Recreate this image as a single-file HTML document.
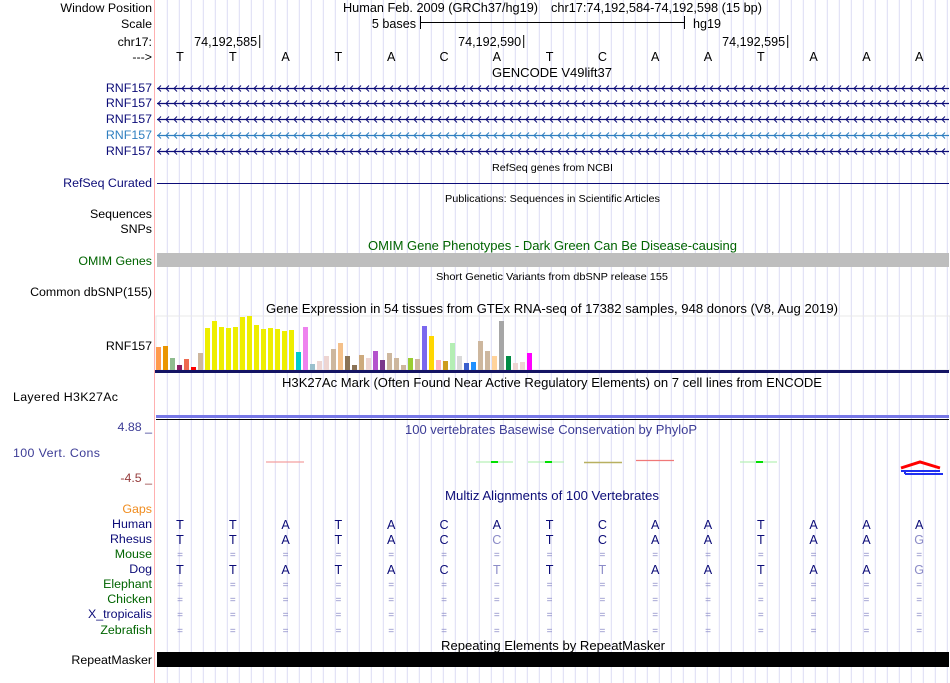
<!DOCTYPE html>
<html><head><meta charset="utf-8">
<style>
html,body{margin:0;padding:0;background:#fff;}
svg{display:block;font-family:"Liberation Sans",sans-serif;}
</style></head>
<body>
<svg id="s" width="950" height="683" viewBox="0 0 950 683" xmlns="http://www.w3.org/2000/svg">
<g id="grid"></g>
<line x1="154.5" y1="0" x2="154.5" y2="683" stroke="#ffb0b0" stroke-width="1"/>
<g id="labels" font-size="12.4" text-anchor="end">
<text x="152" y="12">Window Position</text>
<text x="152" y="28">Scale</text>
<text x="152" y="46">chr17:</text>
<text x="152" y="61">---&gt;</text>
<text x="152" y="92" fill="#0c0c78">RNF157</text>
<text x="152" y="107" fill="#0c0c78">RNF157</text>
<text x="152" y="123" fill="#0c0c78">RNF157</text>
<text x="152" y="139" fill="#2f7fc0">RNF157</text>
<text x="152" y="155" fill="#0c0c78">RNF157</text>
<text x="152" y="187" fill="#0c0c78">RefSeq Curated</text>
<text x="152" y="218">Sequences</text>
<text x="152" y="233">SNPs</text>
<text x="152" y="265" fill="#006400">OMIM Genes</text>
<text x="152" y="296">Common dbSNP(155)</text>
<text x="152" y="350">RNF157</text>
<text x="13" y="401" text-anchor="start" textLength="105">Layered H3K27Ac</text>
<text x="152" y="431" fill="#3c3c96">4.88 _</text>
<text x="13" y="457" text-anchor="start" textLength="87" fill="#3c3c96">100 Vert. Cons</text>
<text x="152" y="482" fill="#963c3c">-4.5 _</text>
<text x="152" y="513" fill="#f08c1e">Gaps</text>
<text x="152" y="528" fill="#0c0c78">Human</text>
<text x="152" y="543" fill="#0c0c78">Rhesus</text>
<text x="152" y="558" fill="#006400">Mouse</text>
<text x="152" y="573" fill="#0c0c78">Dog</text>
<text x="152" y="588" fill="#006400">Elephant</text>
<text x="152" y="603" fill="#006400">Chicken</text>
<text x="152" y="618" fill="#0c0c78">X_tropicalis</text>
<text x="152" y="634" fill="#006400">Zebrafish</text>
<text x="152" y="664">RepeatMasker</text>
</g>
<g font-size="13">
<text x="343" y="12" textLength="195" lengthAdjust="spacingAndGlyphs">Human Feb. 2009 (GRCh37/hg19)</text>
<text x="551" y="12" textLength="211" lengthAdjust="spacingAndGlyphs">chr17:74,192,584-74,192,598 (15 bp)</text>
<text x="492" y="77" textLength="120" lengthAdjust="spacingAndGlyphs">GENCODE V49lift37</text>
<text x="492" y="171" font-size="10.5" textLength="121" lengthAdjust="spacingAndGlyphs">RefSeq genes from NCBI</text>
<text x="445" y="202" font-size="10.5" textLength="215" lengthAdjust="spacingAndGlyphs">Publications: Sequences in Scientific Articles</text>
<text x="368" y="250" fill="#006400" textLength="369" lengthAdjust="spacingAndGlyphs">OMIM Gene Phenotypes - Dark Green Can Be Disease-causing</text>
<text x="436" y="280" font-size="10.5" textLength="232" lengthAdjust="spacingAndGlyphs">Short Genetic Variants from dbSNP release 155</text>
<text x="266" y="313" textLength="572" lengthAdjust="spacingAndGlyphs">Gene Expression in 54 tissues from GTEx RNA-seq of 17382 samples, 948 donors (V8, Aug 2019)</text>
<text x="282" y="387" textLength="540" lengthAdjust="spacingAndGlyphs">H3K27Ac Mark (Often Found Near Active Regulatory Elements) on 7 cell lines from ENCODE</text>
<text x="405" y="434" fill="#3c3c96" textLength="292" lengthAdjust="spacingAndGlyphs">100 vertebrates Basewise Conservation by PhyloP</text>
<text x="445" y="500" fill="#0c0c78" textLength="214" lengthAdjust="spacingAndGlyphs">Multiz Alignments of 100 Vertebrates</text>
<text x="441" y="650" textLength="224" lengthAdjust="spacingAndGlyphs">Repeating Elements by RepeatMasker</text>
</g>
<g font-size="12.6">
<text x="416" y="28" text-anchor="end">5 bases</text>
<line x1="420.5" y1="16" x2="420.5" y2="29" stroke="#000"/>
<line x1="420" y1="22.5" x2="684" y2="22.5" stroke="#000"/>
<line x1="684.5" y1="16" x2="684.5" y2="29" stroke="#000"/>
<text x="693" y="28">hg19</text>
</g>
<g id="pos" font-size="12.6" text-anchor="end"></g>
<g id="bases" font-size="12.6" text-anchor="middle"></g>
<g id="genes"></g>
<line x1="157" y1="183.5" x2="949" y2="183.5" stroke="#0c0c78"/>
<rect x="157" y="253" width="792" height="14" fill="#bebebe"/>
<rect x="156" y="316" width="794" height="54" fill="none" stroke="#e8e8e8"/>
<g id="gtex"></g>
<rect x="155" y="370" width="794" height="3" fill="#141464"/>
<rect x="156" y="415" width="793" height="3" fill="#7878e6"/>
<line x1="156" y1="419.5" x2="949" y2="419.5" stroke="#000"/>
<g id="cons">
<line x1="266" y1="462" x2="304" y2="462" stroke="#f4a0a0" stroke-width="1.2"/>
<line x1="476" y1="462" x2="513" y2="462" stroke="#b8f0b8" stroke-width="1.2"/>
<rect x="491" y="461" width="7" height="2" fill="#00e000"/>
<line x1="528" y1="462" x2="564" y2="462" stroke="#b8f0b8" stroke-width="1.2"/>
<rect x="545" y="461" width="7" height="2" fill="#00e000"/>
<line x1="584" y1="462.5" x2="622" y2="462.5" stroke="#b8b060" stroke-width="1.5"/>
<line x1="636" y1="460.5" x2="674" y2="460.5" stroke="#f07878" stroke-width="1.2"/>
<line x1="740" y1="462" x2="777" y2="462" stroke="#b8f0b8" stroke-width="1.2"/>
<rect x="756" y="461" width="7" height="2" fill="#00e000"/>
<path d="M901 468 L920 462 L940 468" fill="none" stroke="#f00" stroke-width="3"/>
<path d="M901 471 L940 471 M905 474 L943 474 M905 471 L905 474" fill="none" stroke="#2030f0" stroke-width="2"/>
</g>
<g id="multiz" font-size="12.6" text-anchor="middle"></g>
<rect x="157" y="652" width="792" height="15" fill="#000"/>
</svg>
<script>
const gtexValues=[23,24,12,5,11,3,17,42,49,43,42,43,53,54,45,41,42,41,39,40,18,43,6,9,14,21,27,14,5,15,12,19,10,17,12,5,12,11,44,34,10,9,27,14,7,8,29,19,14,49,14,7,8,17];
const gtexColors=["#ff9a4d","#ea9500","#8fbc8f","#8b1c62","#ee6a50","#ff0000","#cdb79e","#eeee00","#eeee00","#eeee00","#eeee00","#eeee00","#eeee00","#eeee00","#eeee00","#eeee00","#eeee00","#eeee00","#eeee00","#eeee00","#00cdcd","#ee82ee","#9ac0cd","#eed5d2","#eed5d2","#cdb79e","#f4c08a","#8b7355","#8b7355","#cdaa7d","#eed5d2","#b452cd","#7a378b","#cdb79e","#cdb79e","#cdb79e","#9acd32","#cdb79e","#7b68ee","#ffd700","#ffb6c1","#cd9b1d","#b4eeb4","#d9d9d9","#3a5fcd","#1e90ff","#cdb79e","#cdb79e","#ffd39b","#a6a6a6","#008b45","#eed5d2","#eed5d2","#ff00ff"];
const bases=["T","T","A","T","A","C","A","T","C","A","A","T","A","A","A"];
const rhesus=["T","T","A","T","A","C","C","T","C","A","A","T","A","A","G"];
const dog=["T","T","A","T","A","C","T","T","T","A","A","T","A","A","G"];
const posTicks=["74,192,585","74,192,590","74,192,595"];
const NS="http://www.w3.org/2000/svg";
function mk(tag,attrs,parent,txt){const e=document.createElementNS(NS,tag);for(const k in attrs)e.setAttribute(k,attrs[k]);if(txt!==undefined)e.textContent=txt;parent.appendChild(e);return e;}
const bx=i=>180+52.8*i;
const grid=document.getElementById('grid');
for(let x=167.3;x<950;x+=12){const l=mk('line',{x1:x.toFixed(1),y1:0,x2:x.toFixed(1),y2:683,stroke:'#dcdcf4'},grid);

}
const pos=document.getElementById('pos');
posTicks.forEach((t,i)=>{const x=bx(1+5*i)+26.4;
const tx=mk('text',{x:x-2,y:46},pos,t);


mk('line',{x1:x+0.5,y1:35,x2:x+0.5,y2:48,stroke:'#000'},pos);});
const bg=document.getElementById('bases');
bases.forEach((b,i)=>{const t=mk('text',{x:bx(i),y:61},bg,b);

});
const genes=document.getElementById('genes');
[88,103,119,135,151].forEach((y,r)=>{const c=r===3?'#2f7fc0':'#0c0c78';
const g=mk('g',{},genes);


mk('line',{x1:157,y1:y+0.5,x2:949,y2:y+0.5,stroke:c,'stroke-width':1.3},g);
let d='';for(let x=157;x<946;x+=8){d+=`M${x+4} ${y-2.5} L${x+1} ${y+0.5} L${x+4} ${y+3.5} `;}
mk('path',{d:d,fill:'none',stroke:c,'stroke-width':1},g);});
const gt=document.getElementById('gtex');
const base=370, scaleY=1;
gtexValues.forEach((v,i)=>{const r=mk('rect',{x:156+7*i,y:base-v*scaleY,width:5,height:v*scaleY,fill:gtexColors[i]},gt);

});
const mz=document.getElementById('multiz');
const light='#8c8cc8';
bases.forEach((b,i)=>{const x=bx(i);
mk('text',{x:x,y:529,fill:'#0c0c78'},mz,b);
mk('text',{x:x,y:544,fill:rhesus[i]===b?'#0c0c78':light},mz,rhesus[i]);
mk('text',{x:x,y:574,fill:dog[i]===b?'#0c0c78':light},mz,dog[i]);
[558,588,603,618,634].forEach(y=>mk('text',{x:x,y:y,fill:light,'font-size':10},mz,'='));});
</script>
</body></html>
